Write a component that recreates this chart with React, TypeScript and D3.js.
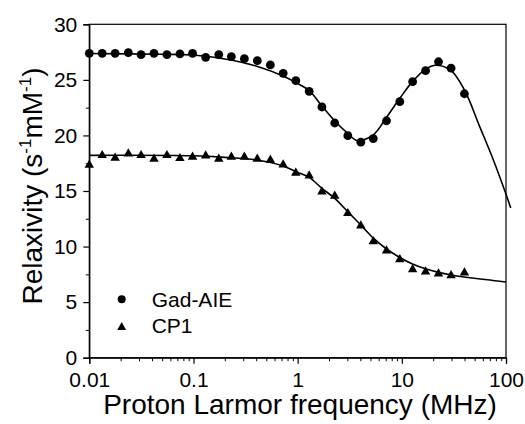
import React, { useEffect, useRef } from "react";
import * as d3 from "d3";

// measured frequencies (MHz), shared by both series
const freq = [
  0.01, 0.0133, 0.0177, 0.0237, 0.0314, 0.0418, 0.0556, 0.0741, 0.098, 0.131,
  0.175, 0.231, 0.308, 0.41, 0.547, 0.726, 0.96, 1.29, 1.71, 2.27, 3.03, 4.04,
  5.32, 7.13, 9.56, 12.7, 16.9, 22.5, 29.7, 39.9,
];
const gadAie = [
  27.39, 27.39, 27.39, 27.45, 27.27, 27.39, 27.27, 27.33, 27.39, 27.03, 27.28,
  27.1, 26.91, 26.73, 26.34, 25.59, 24.93, 23.97, 22.56, 21.12, 19.98, 19.39,
  19.72, 21.32, 23.04, 24.84, 25.83, 26.63, 26.05, 23.75,
];
const cp1 = [
  17.46, 18.33, 18.09, 18.48, 18.33, 18.0, 18.33, 18.06, 18.18, 18.3, 18.0,
  18.18, 18.18, 18.0, 17.91, 17.49, 16.74, 16.5, 15.06, 14.67, 13.11, 11.99,
  10.57, 9.74, 8.97, 8.05, 7.85, 7.67, 7.53, 7.77,
];

// fitted curves
const gadFitFreq = [
  0.01, 0.0477, 0.098, 0.2, 0.418, 0.726, 0.961, 1.29, 1.71, 2.27, 3.03, 3.7,
  5.3, 7.13, 9.56, 12.65, 16.86, 21.2, 29.7, 39.9, 55.9, 75, 99.3, 111,
];
const gadFitVal = [
  27.37, 27.3, 27.24, 26.88, 26.19, 25.35, 24.75, 24.03, 22.65, 21.3, 20.19,
  19.55, 20.04, 21.63, 23.34, 24.84, 25.95, 26.31, 25.83, 24.09, 20.79, 17.88,
  14.79, 13.47,
];
const cp1FitFreq = [
  0.01, 0.098, 0.2, 0.418, 0.726, 0.961, 1.29, 1.71, 2.27, 3.03, 4.04, 5.36,
  7.13, 9.56, 12.65, 16.86, 22.4, 29.8, 39.9, 75, 100,
];
const cp1FitVal = [
  18.21, 18.17, 18.03, 17.77, 17.25, 16.74, 16.23, 15.24, 14.34, 13.14, 11.94,
  10.73, 9.78, 9.02, 8.43, 8.0, 7.68, 7.44, 7.26, 6.95, 6.81,
];

const xTicks = [0.01, 0.1, 1, 10, 100];
const xTickLabels = ["0.01", "0.1", "1", "10", "100"];
const yTicks = [0, 5, 10, 15, 20, 25, 30];
const yMinor = [2.5, 7.5, 12.5, 17.5, 22.5, 27.5];
const legendNames = ["Gad-AIE", "CP1"];

const FONT = "'Liberation Sans', Arial, sans-serif";

const triangle = {
  draw(ctx: any, size: number) {
    const h = Math.sqrt(size) * 0.62;
    const w = h * 1.15;
    ctx.moveTo(0, -h);
    ctx.lineTo(w, h);
    ctx.lineTo(-w, h);
    ctx.closePath();
  },
};

export default function App() {
  const ref = useRef<SVGSVGElement>(null);

  useEffect(() => {
    const svg = d3.select(ref.current);
    svg.selectAll("*").remove();

    const left = 89.3,
      right = 506,
      top = 24.3,
      bottom = 357.7;

    const x = d3.scaleLog().domain([0.01, 100]).range([left, right]);
    const y = d3.scaleLinear().domain([0, 30]).range([bottom, top]);

    // frame
    svg
      .append("rect")
      .attr("x", left)
      .attr("y", top)
      .attr("width", right - left)
      .attr("height", bottom - top)
      .attr("fill", "none")
      .attr("stroke", "#000")
      .attr("stroke-width", 1.2);

    // x minor ticks
    const xMinor: number[] = [];
    for (let d = 0.01; d < 100; d *= 10) {
      for (let k = 2; k <= 9; k++) xMinor.push(+(d * k).toPrecision(3));
    }
    svg
      .append("g")
      .attr("transform", `translate(0,${bottom})`)
      .call(d3.axisBottom(x).tickValues(xMinor).tickSize(3.5).tickFormat(() => ""))
      .call((g) => g.select(".domain").remove());

    const xAxis = svg
      .append("g")
      .attr("transform", `translate(0,${bottom})`)
      .call(
        d3
          .axisBottom(x)
          .tickValues(xTicks)
          .tickSize(6)
          .tickPadding(8.5)
          .tickFormat((d, i) => xTickLabels[i])
      );
    xAxis.select(".domain").attr("stroke-width", 1.2);
    xAxis.attr("font-family", FONT).attr("font-size", 21);
    xAxis.selectAll("line").attr("stroke-width", 1.2);

    svg
      .append("g")
      .attr("transform", `translate(${left},0)`)
      .call(d3.axisLeft(y).tickValues(yMinor).tickSize(3.5).tickFormat(() => ""))
      .call((g) => g.select(".domain").remove());

    const yAxis = svg
      .append("g")
      .attr("transform", `translate(${left},0)`)
      .call(d3.axisLeft(y).tickValues(yTicks).tickSize(6).tickPadding(6));
    yAxis.select(".domain").attr("stroke-width", 1.2);
    yAxis.attr("font-family", FONT).attr("font-size", 21);
    yAxis.selectAll("line").attr("stroke-width", 1.2);

    // fit lines
    const line = d3
      .line<[number, number]>()
      .x((d) => x(d[0]))
      .y((d) => y(d[1]))
      .curve(d3.curveCatmullRom.alpha(0.5));

    svg
      .append("path")
      .datum(gadFitFreq.map((f, i) => [f, gadFitVal[i]] as [number, number]))
      .attr("d", line)
      .attr("fill", "none")
      .attr("stroke", "#000")
      .attr("stroke-width", 1.6);
    svg
      .append("path")
      .datum(cp1FitFreq.map((f, i) => [f, cp1FitVal[i]] as [number, number]))
      .attr("d", line)
      .attr("fill", "none")
      .attr("stroke", "#000")
      .attr("stroke-width", 1.6);

    // points
    svg
      .append("g")
      .selectAll("circle")
      .data(freq)
      .enter()
      .append("circle")
      .attr("cx", (d) => x(d))
      .attr("cy", (d, i) => y(gadAie[i]))
      .attr("r", 4.4)
      .attr("fill", "#000");

    const tri = d3.symbol().type(triangle as any).size(44);
    svg
      .append("g")
      .selectAll("path")
      .data(freq)
      .enter()
      .append("path")
      .attr("d", tri)
      .attr("transform", (d, i) => `translate(${x(d)},${y(cp1[i])})`)
      .attr("fill", "#000");

    // legend
    const lg = svg.append("g").attr("font-family", FONT).attr("font-size", 21);
    lg.append("circle").attr("cx", 121.7).attr("cy", 299.3).attr("r", 4).attr("fill", "#000");
    lg.append("path")
      .attr("d", d3.symbol().type(triangle as any).size(40))
      .attr("transform", "translate(121.7,326)")
      .attr("fill", "#000");
    lg.append("text").attr("x", 151.7).attr("y", 307.3).text(legendNames[0]);
    lg.append("text").attr("x", 151.7).attr("y", 333.3).text(legendNames[1]);

    // axis titles
    svg
      .append("text")
      .attr("x", 300)
      .attr("y", 414)
      .attr("text-anchor", "middle")
      .attr("font-family", FONT)
      .attr("font-size", 28)
      .text("Proton Larmor frequency (MHz)");

    const yt = svg
      .append("text")
      .attr("transform", "translate(41.7,186) rotate(-90)")
      .attr("text-anchor", "middle")
      .attr("font-family", FONT)
      .attr("font-size", 28);
    yt.append("tspan").text("Relaxivity (s");
    yt.append("tspan").attr("font-size", 17).attr("dy", -11).text("-1");
    yt.append("tspan").attr("dy", 11).text("mM");
    yt.append("tspan").attr("font-size", 17).attr("dy", -11).text("-1");
    yt.append("tspan").attr("dy", 11).text(")");
  }, []);

  return (
    <svg
      ref={ref}
      width={525}
      height={424}
      style={{ position: "absolute", left: 0, top: 0, background: "#fff" }}
    />
  );
}
